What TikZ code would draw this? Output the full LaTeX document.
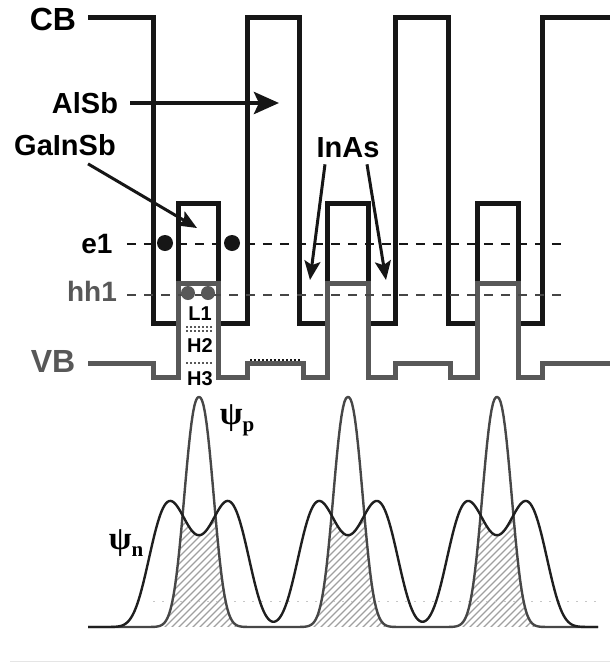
\documentclass[tikz,border=0pt]{standalone}
\usepackage{fontspec}
\setmainfont{Liberation Sans}
\newfontfamily\psifont{Liberation Serif}
\definecolor{cbline}{RGB}{22, 22, 22}
\definecolor{vbline}{RGB}{88, 88, 88}
\definecolor{hatchgray}{RGB}{160, 160, 160}
\usetikzlibrary{arrows.meta, positioning}

\begin{document}
\begin{tikzpicture}[
            x=1pt, y=-1pt,
            declare function={
                gp(\u)=exp(-min(0.5*pow(min(abs(\u)/14+0.001,4),2.3),12));
                psip(\x)=230*(gp(\x-199)+gp(\x-348)+gp(\x-497));
                sn(\u)=161*exp(-min(0.5*pow(min(abs(\u)/44+0.001,3),4),12))*(1-0.43*exp(-min(0.5*(\u/19.3)^2,12)));
                psin(\x)=sn(\x-199)+sn(\x-348)+sn(\x-497);
            },
            lbl/.style={font=\bfseries\fontsize{29}{29}\selectfont, inner sep=0pt},
            biglbl/.style={lbl, font=\bfseries\fontsize{32}{32}\selectfont},
            sublbl/.style={lbl, font=\bfseries\fontsize{20}{20}\selectfont},
            psilbl/.style={inner sep=0pt, font=\psifont\bfseries\fontsize{33}{33}\selectfont},
            band/.style={line width=5pt},
            cb/.style={band, draw=cbline},
            vb/.style={band, draw=vbline},
            level/.style={line width=2pt, dash pattern=on 9pt off 8pt},
            dots/.style={line width=1.5pt, dash pattern=on 1.5pt off 2.5pt},
            arr/.style={-{Stealth[length=19pt, width=16pt, inset=4pt]}, line width=3pt, cbline},
            wave/.style={line width=2.4pt, line join=round},
            hatchline/.style={draw=hatchgray, line width=1.1pt}
        ]
            \useasboundingbox (0,0) rectangle (610,662);

            \foreach \c [evaluate=\c as \lo using \c-48, evaluate=\c as \hi using \c+48] in {199,348,497}{
                \begin{scope}
                    \clip plot[domain=\lo:\hi, samples=90] (\x,{627-min(psip(\x),psin(\x))}) -- cycle;
                    \foreach \k in {-140,-133,...,140}
                        \draw[hatchline] (\c+\k-60,632) -- ++(140,-140);
                \end{scope}
            }
            \draw[gray!45, line width=1pt, dash pattern=on 2pt off 7pt] (153,601) -- (598,601);
            \draw[wave, draw=black!72] plot[domain=88:598, samples=341] (\x,{627-psip(\x)});
            \draw[wave, draw=black!88] plot[domain=88:598, samples=341] (\x,{627-psin(\x)});

            \draw[cb] (88,17) -- (153,17) -- (153,323) -- (178,323) -- (178,203) -- (218,203) -- (218,323)
                -- (247,323) -- (247,17) -- (299,17) -- (299,323) -- (327,323) -- (327,203) -- (368,203)
                -- (368,323) -- (395,323) -- (395,17) -- (448,17) -- (448,323) -- (477,323) -- (477,203)
                -- (518,203) -- (518,323) -- (542,323) -- (542,17) -- (610,17);
            \draw[vb] (88,363) -- (153,363) -- (153,377) -- (178,377) -- (178,283) -- (218,283) -- (218,377)
                -- (247,377) -- (247,363) -- (303,363) -- (303,377) -- (327,377) -- (327,283) -- (368,283)
                -- (368,377) -- (395,377) -- (395,363) -- (450,363) -- (450,377) -- (477,377) -- (477,283)
                -- (518,283) -- (518,377) -- (542,377) -- (542,363) -- (610,363);

            \draw[dots, vbline] (186,327) -- (213,327);
            \draw[dots, vbline] (186,331) -- (213,331);
            \draw[dots, vbline] (186,363) -- (213,363);
            \draw[dots, cbline, line width=1.2pt] (250,360) -- (300,360);

            \node[biglbl] (cb) at (53,19) {CB};
            \node[biglbl, text=vbline] (vb) at (53,361) {VB};
            \node[lbl] (alsb) at (85,103) {AlSb};
            \node[lbl] (gainsb) at (65,145) {GaInSb};
            \node[lbl] (inas) at (348,148) {InAs};
            \node[lbl, font=\bfseries\fontsize{28}{28}\selectfont] (e1) at (97,244) {e1};
            \node[lbl, font=\bfseries\fontsize{28}{28}\selectfont, text=vbline] (hh1) at (92,291) {hh1};
            \node[sublbl] (l1) at (200,314) {L1};
            \node[sublbl] (h2) at (200,346) {H2};
            \node[sublbl] (h3) at (200,379) {H3};
            \node[psilbl] (psip) at (237,420) {ψ\raisebox{-7pt}{\fontsize{21}{21}\selectfont p}};
            \node[psilbl] (psin) at (126,543) {ψ\raisebox{-7pt}{\fontsize{21}{21}\selectfont n}};

            \draw[level, cbline] (e1.east) ++(14,0) coordinate (e1s) -- (562,244);
            \draw[level, vbline!80!black] (hh1.east) ++(10,4) coordinate (hh1s) -- (562,295);

            \fill[cbline] (165,243) circle[radius=8pt];
            \fill[cbline] (232,243) circle[radius=8pt];
            \fill[vbline] (188,293) circle[radius=7pt];
            \fill[vbline] (208,293) circle[radius=7pt];

            \coordinate (alsbtip) at (279,103);
            \coordinate (gainsbtip) at (197,228);
            \coordinate (inastipl) at (310,280);
            \coordinate (inastipr) at (386,280);
            \draw[arr, line width=4.5pt, -{Stealth[length=25pt, width=22pt, inset=5pt]}] ([xshift=12pt]alsb.east) -- (alsbtip);
            \draw[arr] ([shift={(23,8)}]gainsb.south) -- (gainsbtip);
            \draw[arr] ([shift={(-23,6)}]inas.south) -- (inastipl);
            \draw[arr] ([shift={(19,6)}]inas.south) -- (inastipr);

            \draw[gray!20, line width=1pt] (10,661) -- (610,661);
        \end{tikzpicture}
\end{document}
